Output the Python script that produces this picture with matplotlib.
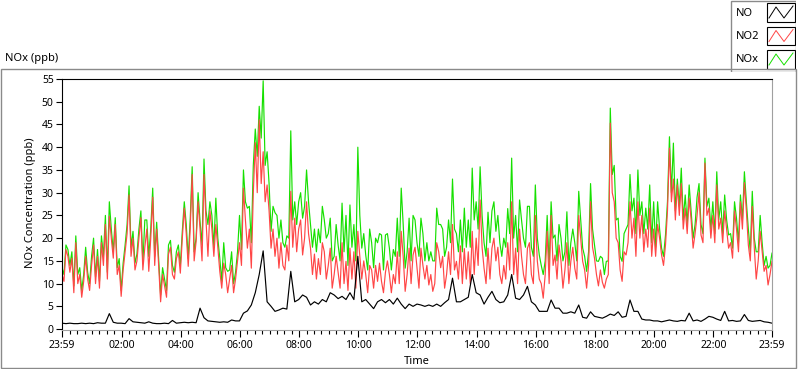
import matplotlib
matplotlib.use("Agg")
import matplotlib.pyplot as plt
import matplotlib.patches as patches
import numpy as np

plt.rcParams['font.family'] = ['Noto Sans', 'DejaVu Sans']

# readings every 8 minutes, counted from 23:59
minutes = np.arange(0, 1441, 8)
# extra readings half way between them (4, 12, 20 ... minutes)
minutes_mid = np.arange(4, 1440, 8)

no = [1.3, 1.2, 1.3, 1.2, 1.2, 1.3, 1.2, 1.3, 1.2, 1.4, 1.3, 1.3, 3.4, 1.5, 1.3, 1.3,
      1.2, 2.3, 1.6, 1.5, 1.4, 1.3, 1.6, 1.3, 1.2, 1.2, 1.3, 1.2, 1.9, 1.3, 1.4,
      1.5, 1.4, 1.5, 1.4, 4.6, 2.5, 1.8, 1.7, 1.6, 1.5, 1.6, 1.5, 2.0, 1.8, 1.8,
      3.5, 4.0, 5.3, 8, 12, 17.2, 6, 5, 3.9, 4.2, 4.6, 4.4, 12.7, 6, 6.5,
      7.5, 7.0, 5.3, 6, 5.5, 6.5, 6, 8, 7.5, 6.7, 7.2, 6.5, 8, 6.5, 16,
      6, 6.5, 5.5, 4.5, 6, 6.5, 5.8, 6.5, 5.5, 6.8, 5.5, 4.5, 5.5, 5, 5.5,
      5.3, 5.0, 5.3, 5.0, 5.5, 5.0, 5.8, 6.5, 11.2, 6, 6, 6.5, 7, 12, 8, 7.5,
      5.5, 7, 8.3, 6.5, 5.8, 6, 7.5, 12, 6.8, 6.5, 7.5, 9.4, 6, 5.3, 3.9,
      3.9, 3.9, 6.4, 4.6, 4.6, 3.5, 3.5, 3.8, 3.5, 5.3, 2.6, 2.4, 3.8, 2.8, 2.6,
      2.4, 2.8, 3.3, 3.0, 3.8, 2.6, 2.8, 6.4, 3.9, 3.9, 2.2, 2.0, 2.0, 1.8,
      1.8, 1.6, 1.8, 2.0, 1.8, 1.7, 1.9, 1.8, 3.5, 1.8, 2.0, 1.7, 2.2, 2.8, 2.6,
      2.2, 1.9, 3.9, 1.8, 1.9, 1.7, 1.8, 3.2, 1.9, 1.7, 1.8, 1.9, 1.6, 1.5, 1.3]

no2 = [12, 17.5, 12.5, 8, 10, 7, 16, 8.5, 18.5, 16, 19, 23, 24.8, 15.6, 12, 7.2,
       17, 29.5, 20, 15, 24.5, 18, 12.7, 29, 22, 6, 9.5, 16.5, 12, 15.5, 12.3,
       26.6, 13.8, 34, 19.3, 22, 34, 16, 22, 23, 12.7, 14.5, 8, 14, 11, 19,
       31, 17.8, 13.4, 41, 46, 39, 31.7, 17.8, 16, 13.4, 14, 18.5, 30.3, 24.4, 22,
       16.3, 28, 17.8, 16.5, 15.5, 19, 11, 17.8, 12, 12.5, 19, 14.9, 17.8, 17, 21.5,
       11, 12, 14, 9, 10.5, 10.5, 12.5, 12, 12, 17, 21.5, 8.3, 17.8, 16.3, 13.4,
       17.8, 11, 9.7, 8.3, 19, 13.5, 9, 17, 23, 14.9, 18.3, 17.7, 17, 21.5, 20, 28.4,
       13.4, 17.8, 17.8, 15, 12, 14, 19, 28, 17.8, 22, 12, 17.8, 12, 25, 11,
       6.8, 21.5, 25, 16.3, 18.5, 9, 19, 14.9, 13.4, 25, 14.9, 9, 28, 15.6, 9.5,
       10.3, 11, 45.3, 28, 19, 10.5, 16.3, 28, 24.4, 28, 25, 22, 26.6, 22,
       23, 16.3, 18.5, 39.8, 33, 31.7, 32, 26.6, 28.8, 17.8, 25, 20.7, 36.5, 26.6, 25,
       31.7, 24.4, 26, 17.8, 15.6, 22, 28, 32.2, 18.5, 27, 11, 21.5, 12.7, 9.7, 14.9]

no2_mid = [10.5, 16, 15.6, 19, 12, 10.5, 11, 14, 10, 9, 14, 11, 20, 23, 14,
           13, 21, 16, 13, 20, 13, 22, 20, 14, 14, 12, 7, 18, 11, 17,
           20, 21, 22, 15, 28, 15, 24, 26, 16, 18, 9, 12, 11, 8, 15,
           14, 24, 22, 30, 30, 32, 28, 26, 22, 20, 19, 13, 15, 18, 17,
           24, 20, 21, 12, 11, 12, 17, 14, 9, 16, 9, 10, 8.5, 11, 9,
           16, 15, 8, 13, 14, 14.5, 8, 15, 8, 10, 10, 16, 12, 10, 18,
           9, 14, 14, 12, 10, 17, 16, 12, 12, 13, 11, 10, 11, 10, 12, 14,
           18, 10, 11, 20, 18, 10, 11, 13, 12, 10, 16, 10, 19, 10, 15,
           10, 12, 10, 14, 11, 15, 13, 10, 18, 11, 20, 13, 14, 18, 12,
           13, 9, 12, 30, 20, 13, 17, 19, 20, 16, 20, 17, 18, 16,
           16, 20, 14, 26, 28, 24, 25, 22, 21, 24, 21, 30, 19, 25, 20,
           19, 22, 19, 22, 19, 26, 17, 22, 26, 15, 18, 15, 17, 14, 12]

nox = [13.5, 18.5, 14, 9.5, 12, 8.5, 18, 10, 20, 17.5, 20.5, 25, 28, 17, 13.5, 8.5,
       18.5, 31.5, 21.5, 16.5, 26, 24, 16, 31, 23.5, 7.5, 11, 18.5, 14, 17, 14,
       28, 15.5, 35.7, 20, 23.7, 37.4, 23, 25, 28.8, 15.6, 19, 12.7, 17, 12.5, 25,
       35, 26.6, 19, 44, 49, 54.6, 39, 21.5, 25.6, 20, 19, 20.5, 43.6, 28, 28,
       24.4, 35, 23, 22, 22, 27, 20, 24.4, 16, 18.5, 27.7, 25, 27.3, 23, 40,
       17.8, 16.3, 22, 13.5, 19, 20.7, 20.7, 17.8, 17.5, 24.4, 31, 13.4, 24.4, 25, 19,
       24.4, 15, 15, 15, 26.6, 23, 16, 24, 33, 21, 24, 26.6, 24, 35.4, 28, 35.7,
       19, 25.7, 26, 21.5, 19, 20, 26.5, 37.6, 25, 28.4, 20, 27, 18, 31.7, 16.3,
       12, 25, 28, 20.7, 23, 15, 25.8, 19, 19, 30.3, 17.8, 12.7, 32, 18.5, 14.9,
       15.6, 14.9, 48.6, 36, 24.4, 14.9, 22, 34, 28.8, 35, 28, 26.6, 31.7, 28,
       28, 17.8, 20.7, 42.3, 40.9, 33, 35.4, 29.5, 31.7, 20, 29, 23, 37.6, 28.8, 28,
       34.6, 28, 29.5, 20.7, 17.8, 24.4, 29.5, 34.6, 22, 30.3, 17, 25, 14, 13.4, 16.7]

nox_mid = [12, 17.5, 17, 20.5, 13.5, 12, 12.5, 16, 11.5, 10.5, 16, 12.5, 22, 24.5, 15.5,
           14.5, 23, 18, 14.5, 22, 14.5, 24, 22, 16, 15.5, 13.5, 8.5, 19.5, 12.5, 18.5,
           21.5, 23, 24, 17, 30, 18.5, 26, 28, 18, 20, 10.5, 13.5, 13, 10, 17,
           17.5, 28, 27, 36, 38, 42, 36, 32, 27, 25, 24, 18, 20, 24, 23,
           30, 27, 28, 18, 17, 19, 24, 21, 15, 23, 15, 17, 14, 18, 15,
           25, 21, 13, 19, 20, 21, 13, 21, 13, 16, 16, 23, 17, 15, 24,
           16, 21, 19, 17, 15, 23, 22, 18, 19, 22, 17, 17, 18, 18, 24, 22,
           25, 16, 19, 28, 25, 16, 18, 21, 20, 17, 24, 18, 27, 16, 20,
           14, 15, 14, 20, 15, 20, 17, 14, 22, 15, 24, 16, 17, 22, 15,
           16, 12, 15, 34, 24, 16, 21, 23, 26, 21, 25, 21, 22, 19,
           18, 22, 16, 28, 30, 26, 27, 24, 23, 26, 23, 32, 21, 27, 22,
           21, 24, 21, 24, 21, 28, 19, 24, 28, 17, 20, 17, 19, 16, 14]

tick_pos = [0, 121, 241, 361, 481, 601, 721, 841, 961, 1081, 1201, 1321, 1440]
tick_labels = ["23:59", "02:00", "04:00", "06:00", "08:00", "10:00", "12:00",
               "14:00", "16:00", "18:00", "20:00", "22:00", "23:59"]
minor_pos = [1 + 15 * k for k in range(1, 96) if k % 8 != 0]
series_names = ["NO", "NO2", "NOx"]
series_colors = ["black", "#ff4646", "#16e000"]


def merge(t_a, v_a, t_b, v_b):
    # put the two sets of readings back in time order
    t = np.concatenate([t_a, t_b])
    v = np.concatenate([v_a, v_b])
    order = np.argsort(t)
    return t[order], v[order]


t_no2, v_no2 = merge(minutes, no2, minutes_mid, no2_mid)
t_nox, v_nox = merge(minutes, nox, minutes_mid, nox_mid)

W, H = 800, 369
fig = plt.figure(figsize=(8, 3.69), dpi=100)

# outer panel frame
fig.patches.append(patches.Rectangle((0.5 / W, 1 - 368 / H), 795 / W, 299 / H,
                                     transform=fig.transFigure, fill=False,
                                     edgecolor="#8a8a8a", lw=1))

ax = fig.add_axes([62 / W, 1 - 330 / H, 710 / W, 251 / H])
ax.plot(t_nox, v_nox, color=series_colors[2], lw=0.85)
ax.plot(t_no2, v_no2, color=series_colors[1], lw=0.85)
ax.plot(minutes, no, color=series_colors[0], lw=0.85)
ax.set_xlim(0, 1440)
ax.set_ylim(-0.2, 55)

ax.set_yticks(np.arange(0, 56, 5))
ax.set_xticks(tick_pos)
ax.set_xticklabels(tick_labels)
ax.set_xticks(minor_pos, minor=True)
ax.tick_params(axis="both", labelsize=7.5, width=0.8, pad=2)
ax.tick_params(axis="x", which="major", length=5)
ax.tick_params(axis="x", which="minor", length=3, width=0.8)
ax.tick_params(axis="y", length=4)
for side in ["top", "left"]:
    ax.spines[side].set_color("black")
for side in ["bottom", "right"]:
    ax.spines[side].set_color("#a0a0a0")

fig.text(31 / W, 1 - 203 / H, "NOx Concentration (ppb)", rotation=90,
         ha="center", va="center", fontsize=8)
fig.text(417 / W, 1 - 361 / H, "Time", ha="center", va="center", fontsize=8)
fig.text(5 / W, 1 - 58 / H, "NOx (ppb)", ha="left", va="center", fontsize=8)

# legend panel, drawn in pixel units
lg = fig.add_axes([730 / W, 1 - 72 / H, 66 / W, 72 / H])
lg.set_xlim(0, 66)
lg.set_ylim(72, 0)
lg.axis("off")
lg.add_patch(patches.Rectangle((0.5, 0.5), 65, 71, fill=True, facecolor="white",
                               edgecolor="#8a8a8a", lw=1))
for i, (name, col) in enumerate(zip(series_names, series_colors)):
    y0 = 3 + i * 23.5
    lg.text(6, y0 + 10, name, ha="left", va="center", fontsize=8)
    lg.add_patch(patches.Rectangle((37, y0), 28, 18.5, fill=False,
                                   edgecolor="black", lw=0.8))
    lg.plot([39, 46, 54, 63], [y0 + 15, y0 + 4, y0 + 15, y0 + 3], color=col, lw=0.7)

fig.savefig("out.png", dpi=100)
